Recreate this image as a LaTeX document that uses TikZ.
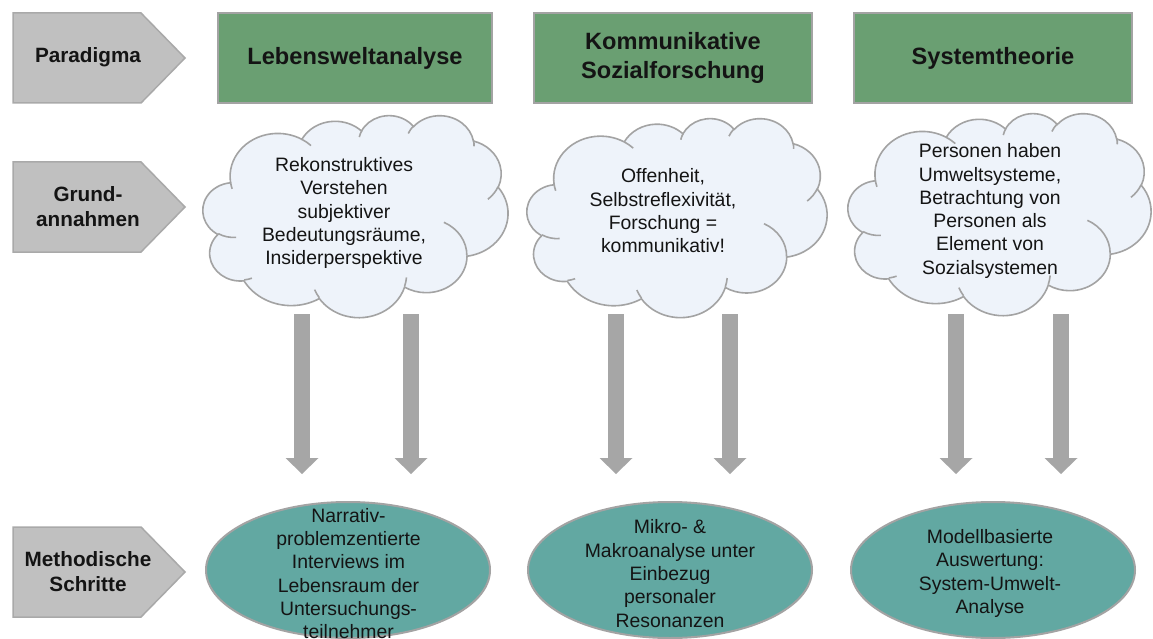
\documentclass[tikz,border=0pt]{standalone}
\usepackage{fontspec}
\setmainfont{Liberation Sans}
\usetikzlibrary{shapes.geometric, arrows.meta}

\definecolor{tagfill}{HTML}{C0C0C0}
\definecolor{tagline}{HTML}{A9A9A9}
\definecolor{paragreen}{HTML}{6A9F72}
\definecolor{boxline}{HTML}{A3A3A3}
\definecolor{cloudfill}{HTML}{EEF3FA}
\definecolor{cloudline}{HTML}{A3A3A3}
\definecolor{flowgray}{HTML}{A6A6A6}
\definecolor{methodteal}{HTML}{62A8A2}
\definecolor{inktext}{HTML}{141414}

% parametric angle on an ellipse (radii #1,#2) for the visual angle #3
\pgfmathdeclarefunction{cpa}{3}{\pgfmathparse{atan2((#1)*sin(#3),(#2)*cos(#3))}}
% parametric sweep for visual start #3 and visual sweep #4
\pgfmathdeclarefunction{cpd}{4}{%
  \pgfmathparse{mod(cpa(#1,#2,#3+#4)-cpa(#1,#2,#3)+720,360)}%
  \pgfmathparse{(#4>0)*\pgfmathresult+(#4<0)*(\pgfmathresult-360)}}
\newcommand\carc[4]{arc[x radius=#1, y radius=#2, start angle={cpa(#1,#2,#3)}, delta angle={cpd(#1,#2,#3,#4)}]}

% cloud outline in a 4320 x 4320 grid, placed at left #1, top #2, size #3 x #4
\newcommand\thoughtcloud[4]{%
  \pgfmathsetmacro\cloudsx{#3/4320}%
  \pgfmathsetmacro\cloudsy{#4/4320}%
  \begin{scope}[shift={(#1,#2)}, x=\cloudsx pt, y=-\cloudsy pt]
    \filldraw[cloudedge, fill=cloudfill] (390.0,1437.0)
      \carc{675.3}{919.0}{-190.48748}{123.78053}
      \carc{533.3}{726.7}{-144.10238}{89.94523}
      \carc{436.5}{594.5}{-145.80792}{99.72302}
      \carc{485.7}{659.5}{-130.98607}{117.24173}
      \carc{533.3}{727.3}{-78.70888}{109.02692}
      \carc{677.5}{922.0}{-46.26725}{130.269}
      \carc{578.5}{786.7}{0.62502}{114.03333}
      \carc{675.2}{921.5}{22.4516}{115.17255}
      \carc{772.0}{1054.3}{66.24263}{75.71102}
      \carc{436.0}{591.8}{-274.94208}{146.73557}
      \carc{434.5}{594.5}{-246.8285}{152.51885}
      -- cycle;
    \draw[cloudedge]
      (469.3,2617.7) \carc{434.5}{594.5}{86.742}{26.4295}
      (692.8,3489.9) \carc{436.0}{591.8}{73.61047}{11.44747}
      (1647.8,3909.0) \carc{675.2}{921.5}{137.62415}{14.0811}
      (2882.7,3475.1) \carc{675.2}{921.5}{6.45327}{15.99835}
      (3412.9,2295.4) \carc{578.5}{786.7}{-70.29235}{70.91737}
      (4179.8,1535.4) \carc{533.3}{727.3}{30.31803}{27.7515}
      (3832.4,542.6) \carc{485.7}{659.5}{-13.74433}{14.8589}
      (2907.8,395.2) \carc{485.7}{659.5}{-149.18145}{18.19537}
      (2214.1,472.0) \carc{436.5}{594.5}{-163.49427}{17.68635}
      (1400.0,519.2) \carc{675.3}{919.0}{-66.70695}{12.31935}
      (412.7,1578.9) \carc{675.3}{919.0}{157.65435}{11.85817};
  \end{scope}}

% row tag: pentagon pointing right, top-left corner at (#1,#2)
\newcommand\rowtag[2]{%
  \filldraw[tagbox] (#1,#2) -- ++(128,0) -- ++(44,45) -- ++(-44,45) -- ++(-128,0) -- cycle;}

\newcommand\bodyfont{\fontsize{19.4pt}{23.3pt}\selectfont}
\newcommand\titlefont{\fontsize{23.6pt}{28.3pt}\selectfont\bfseries}
\newcommand\tagfont{\fontsize{20.7pt}{25pt}\selectfont\bfseries}

\tikzset{
  tagbox/.style={fill=tagfill, draw=tagline, line width=1.5pt, line join=miter},
  tagtext/.style={font=\tagfont, text=inktext, align=center, inner sep=0pt},
  parabox/.style={rectangle, fill=paragreen, draw=boxline, line width=1.5pt,
    minimum height=90pt, inner sep=0pt, font=\titlefont, text=inktext, align=center},
  cloudedge/.style={draw=cloudline, line width=1.6pt},
  bodytext/.style={font=\bodyfont, text=inktext, align=center, inner sep=0pt},
  methodoval/.style={ellipse, fill=methodteal, draw=boxline, line width=2pt,
    minimum width=284pt, minimum height=136pt, inner sep=0pt},
  flow/.style={draw=flowgray, line width=16pt,
    -{Triangle[width=33pt, length=16pt, line width=0pt]}},
}

\begin{document}
\begin{tikzpicture}[x=1pt, y=-1pt]
  \path[fill=white] (0,0) rectangle (1153,639);
  \useasboundingbox (0,0) rectangle (1153,639);

  % row tags
  \rowtag{13}{13}
  \rowtag{13}{162}
  \rowtag{13}{527}
  \node[tagtext] (tagPar) at (88,57.5) {Paradigma};
  \node[tagtext] (tagGru) at (88,207) {Grund-\\annahmen};
  \node[tagtext] (tagMet) at (88,572) {Methodische\\Schritte};

  % paradigms
  \node[parabox, minimum width=274pt] (parLeb) at (355,58) {Lebensweltanalyse};
  \node[parabox, minimum width=278pt] (parKom) at (673,58) {Kommunikative\\Sozialforschung};
  \node[parabox, minimum width=278pt] (parSys) at (993,58) {Systemtheorie};

  % basic assumptions
  \thoughtcloud{203}{115}{305}{202}
  \thoughtcloud{527}{118}{300}{199}
  \thoughtcloud{848}{113}{303}{202}
  \node[bodytext] (basLeb) at (344,213) {Rekonstruktives\\Verstehen\\subjektiver\\Bedeutungsräume,\\Insiderperspektive};
  \node[bodytext] (basKom) at (663,211) {Offenheit,\\Selbstreflexivität,\\Forschung =\\kommunikativ!};
  \node[bodytext] (basSys) at (990,211) {Personen haben\\Umweltsysteme,\\Betrachtung von\\Personen als\\Element von\\Sozialsystemen};

  % methods
  \node[methodoval] (metLeb) at (348,570) {};
  \node[methodoval] (metKom) at (670,570) {};
  \node[methodoval] (metSys) at (993,570) {};
  \node[bodytext] (metLebT) at (348.5,573.5) {Narrativ-\\problemzentierte\\Interviews im\\Lebensraum der\\Untersuchungs-\\teilnehmer};
  \node[bodytext] (metKomT) at (670,573.5) {Mikro- \&\\Makroanalyse unter\\Einbezug\\personaler\\Resonanzen};
  \node[bodytext] (metSysT) at (990,573.5) {Modellbasierte\\Auswertung:\\System-Umwelt-\\Analyse};

  % downward block arrows
  \foreach \n/\x in {1/302, 2/411, 3/616, 4/730, 5/956, 6/1061} {
    \coordinate (flowTop\n) at (\x,314);
    \coordinate (flowEnd\n) at (\x,474);
  }
  \foreach \n in {1,...,6} {
    \draw[flow] (flowTop\n) -- (flowEnd\n);
  }
\end{tikzpicture}
\end{document}
